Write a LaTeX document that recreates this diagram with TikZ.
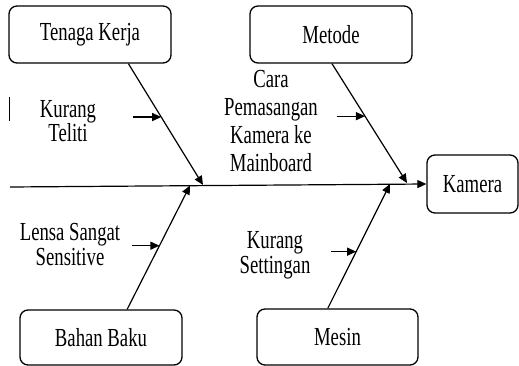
\documentclass[tikz,border=0pt]{standalone}
\usepackage{fontspec}
\setmainfont{Liberation Serif}[FakeStretch=0.72]
\usetikzlibrary{arrows.meta,calc}
\begin{document}
\begin{tikzpicture}[x=1pt,y=-1pt,
  box/.style={draw,rounded corners=8pt,line width=1.3pt,inner sep=0pt},
  lbl/.style={align=center,inner sep=0pt},
  arr/.style={line width=1.2pt,-{Triangle[length=9pt,width=8pt]}},
  font=\fontsize{26}{23}\selectfont]
\useasboundingbox (0,0) rectangle (519,366);
% boxes
\node[box,minimum width=162pt,minimum height=57pt] (tk) at (90,34.5) {Tenaga Kerja};
\node[box,minimum width=162pt,minimum height=57pt] (mt) at (331,34.5) {Metode};
\node[box,minimum width=91pt,minimum height=58pt] (km) at (472.5,184) {Kamera};
\node[box,minimum width=162pt,minimum height=55pt] (bb) at (101,337.5) {Bahan Baku};
\node[box,minimum width=161pt,minimum height=56pt] (ms) at (337.5,337) {Mesin};
% spine
\coordinate (sp) at (10,187);
\draw[arr] (sp) -- (km.west);
% junctions on spine
\coordinate (j1) at (203,185);
\coordinate (j2) at (407,183);
\coordinate (j3) at (190,185.5);
\coordinate (j4) at (390,184);
% branch starts
\coordinate (s1) at ($(tk.south west)!0.735!(tk.south east)$);
\coordinate (s2) at ($(mt.south west)!0.506!(mt.south east)$);
\coordinate (s3) at ($(bb.north west)!0.66!(bb.north east)$);
\coordinate (s4) at ($(ms.north west)!0.44!(ms.north east)$);
\draw[arr] (s1) -- (j1);
\draw[arr] (s2) -- (j2);
\draw[arr] (s3) -- (j3);
\draw[arr] (s4) -- (j4);
% small cause arrows
\coordinate (p1) at ($(s1)!0.44!(j1)$);
\coordinate (p2) at ($(s2)!0.44!(j2)$);
\coordinate (p3) at ($(s3)!0.514!(j3)$);
\coordinate (p4) at ($(s4)!0.456!(j4)$);
\coordinate (q1) at ($(p1)+(-28,0)$);
\coordinate (q2) at ($(p2)+(-28,0)$);
\coordinate (q3) at ($(p3)+(-27,0)$);
\coordinate (q4) at ($(p4)+(-25,0)$);
\draw[arr] (q1) -- (p1);
\draw[arr] (q2) -- (p2);
\draw[arr] (q3) -- (p3);
\draw[arr] (q4) -- (p4);
% stray bar
\draw[line width=1pt] (9,97) -- (9,121);
% labels
\node[lbl] (l1) at (68,121) {Kurang\\Teliti};
\node[lbl,font=\fontsize{26}{28}\selectfont] (l2) at (271,121) {Cara\\Pemasangan\\Kamera ke\\Mainboard};
\node[lbl,font=\fontsize{26}{25}\selectfont] (l3) at (70,245) {Lensa Sangat\\Sensitive};
\node[lbl,font=\fontsize{26}{25}\selectfont] (l4) at (275,255) {Kurang\\Settingan};
\end{tikzpicture}
\end{document}
